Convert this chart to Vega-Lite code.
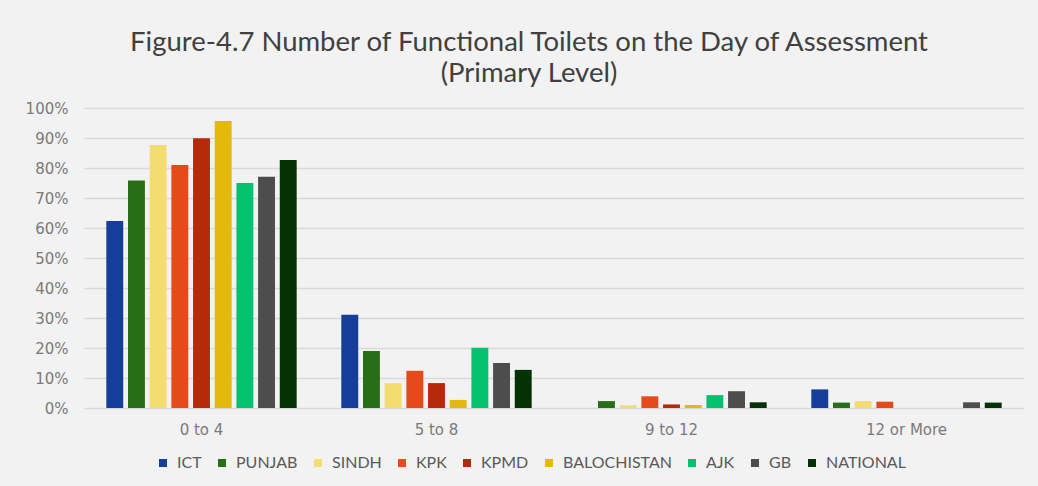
{
  "$schema": "https://vega.github.io/schema/vega-lite/v6.json",
  "width": 940,
  "height": 300,
  "autosize": {"type": "none"},
  "padding": {"left": 84, "top": 108, "right": 14, "bottom": 78},
  "background": "#f2f2f2",
  "title": {
    "text": ["Figure-4.7 Number of Functional Toilets on the Day of Assessment", "(Primary Level)"],
    "font": "Lato",
    "fontSize": 27.5,
    "fontWeight": "normal",
    "color": "#404040",
    "lineHeight": 31,
    "anchor": "middle",
    "dx": -25,
    "offset": 14
  },
  "data": {
    "values": [
      {"group": "0 to 4", "region": "ICT", "value": 62.3},
      {"group": "0 to 4", "region": "PUNJAB", "value": 75.8},
      {"group": "0 to 4", "region": "SINDH", "value": 87.7},
      {"group": "0 to 4", "region": "KPK", "value": 81.0},
      {"group": "0 to 4", "region": "KPMD", "value": 89.9},
      {"group": "0 to 4", "region": "BALOCHISTAN", "value": 95.7},
      {"group": "0 to 4", "region": "AJK", "value": 75.0},
      {"group": "0 to 4", "region": "GB", "value": 77.1},
      {"group": "0 to 4", "region": "NATIONAL", "value": 82.7},
      {"group": "5 to 8", "region": "ICT", "value": 31.1},
      {"group": "5 to 8", "region": "PUNJAB", "value": 19.0},
      {"group": "5 to 8", "region": "SINDH", "value": 8.3},
      {"group": "5 to 8", "region": "KPK", "value": 12.4},
      {"group": "5 to 8", "region": "KPMD", "value": 8.3},
      {"group": "5 to 8", "region": "BALOCHISTAN", "value": 2.7},
      {"group": "5 to 8", "region": "AJK", "value": 20.1},
      {"group": "5 to 8", "region": "GB", "value": 15.0},
      {"group": "5 to 8", "region": "NATIONAL", "value": 12.7},
      {"group": "9 to 12", "region": "ICT", "value": 0},
      {"group": "9 to 12", "region": "PUNJAB", "value": 2.3},
      {"group": "9 to 12", "region": "SINDH", "value": 0.9},
      {"group": "9 to 12", "region": "KPK", "value": 3.9},
      {"group": "9 to 12", "region": "KPMD", "value": 1.2},
      {"group": "9 to 12", "region": "BALOCHISTAN", "value": 1.0},
      {"group": "9 to 12", "region": "AJK", "value": 4.3},
      {"group": "9 to 12", "region": "GB", "value": 5.6},
      {"group": "9 to 12", "region": "NATIONAL", "value": 1.9},
      {"group": "12 or More", "region": "ICT", "value": 6.2},
      {"group": "12 or More", "region": "PUNJAB", "value": 1.8},
      {"group": "12 or More", "region": "SINDH", "value": 2.3},
      {"group": "12 or More", "region": "KPK", "value": 2.1},
      {"group": "12 or More", "region": "KPMD", "value": 0},
      {"group": "12 or More", "region": "BALOCHISTAN", "value": 0},
      {"group": "12 or More", "region": "AJK", "value": 0},
      {"group": "12 or More", "region": "GB", "value": 1.9},
      {"group": "12 or More", "region": "NATIONAL", "value": 1.8}
    ]
  },
  "mark": {"type": "bar"},
  "encoding": {
    "x": {
      "field": "group",
      "type": "nominal",
      "sort": null,
      "title": null,
      "scale": {"paddingInner": 0.19, "paddingOuter": 0.095},
      "axis": {
        "labelAngle": 0,
        "domain": false,
        "ticks": false,
        "labelPadding": 14,
        "labelFont": "DejaVu Sans",
        "labelFontSize": 15,
        "labelColor": "#7a7a7a"
      }
    },
    "xOffset": {
      "field": "region",
      "type": "nominal",
      "sort": null,
      "scale": {"paddingInner": 0.22, "paddingOuter": 0}
    },
    "y": {
      "field": "value",
      "type": "quantitative",
      "title": null,
      "scale": {"domain": [0, 100]},
      "axis": {
        "values": [0, 10, 20, 30, 40, 50, 60, 70, 80, 90, 100],
        "labelExpr": "datum.value + '%'",
        "domain": false,
        "ticks": false,
        "labelPadding": 16,
        "labelFont": "DejaVu Sans",
        "labelFontSize": 15,
        "labelColor": "#7a7a7a",
        "gridColor": "#d9d9d9",
        "gridWidth": 1.5
      }
    },
    "color": {
      "field": "region",
      "type": "nominal",
      "sort": null,
      "scale": {
        "domain": ["ICT", "PUNJAB", "SINDH", "KPK", "KPMD", "BALOCHISTAN", "AJK", "GB", "NATIONAL"],
        "range": ["#173d9b", "#276e17", "#f3dd71", "#e64a19", "#b7290b", "#e4b90b", "#06c270", "#4d4d4d", "#043106"]
      },
      "legend": {
        "title": null,
        "orient": "none",
        "direction": "horizontal",
        "columns": 9,
        "legendX": 71,
        "legendY": 347,
        "symbolType": "square",
        "symbolSize": 64,
        "symbolStrokeWidth": 0,
        "labelFont": "Lato",
        "labelFontSize": 16,
        "labelColor": "#595959",
        "labelOffset": 6,
        "columnPadding": 12
      }
    }
  },
  "config": {"view": {"stroke": null}}
}
